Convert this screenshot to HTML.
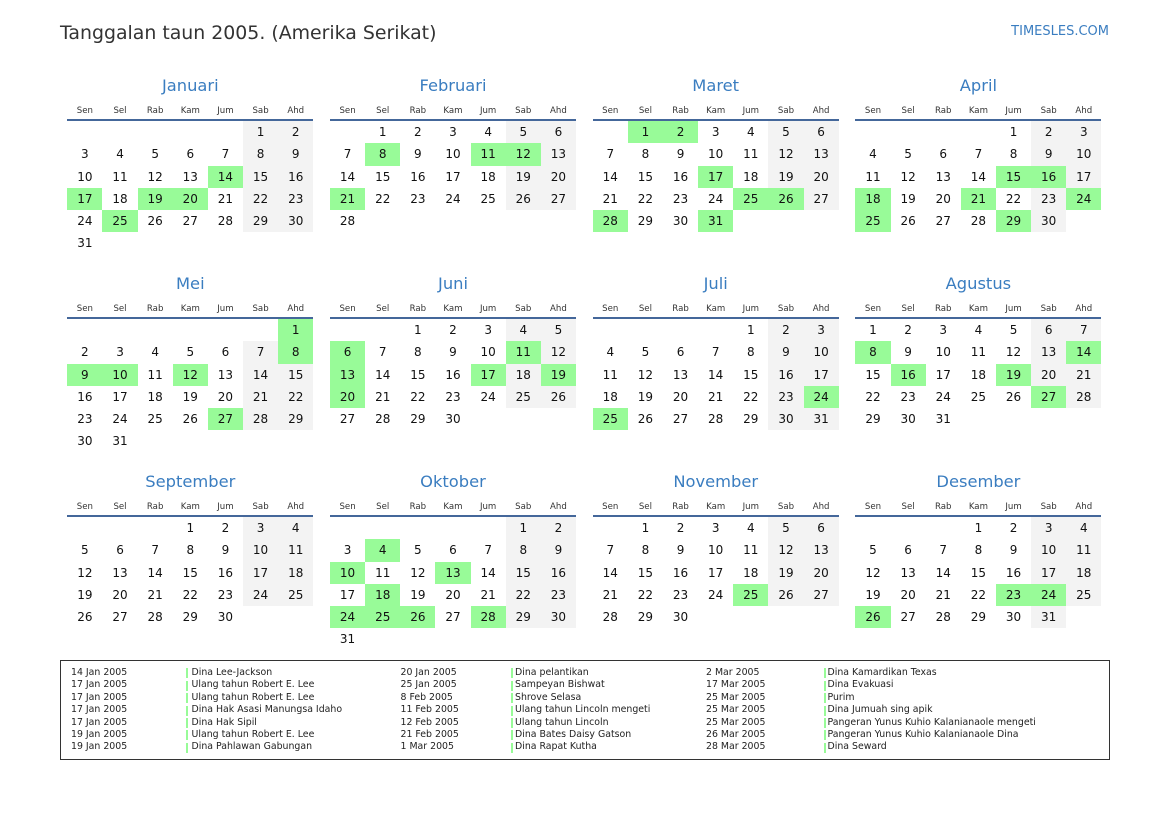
<!DOCTYPE html>
<html><head><meta charset="utf-8">
<style>
*{margin:0;padding:0;box-sizing:border-box}
html,body{width:1169px;height:827px;overflow:hidden;background:#fff;font-family:"DejaVu Sans","Liberation Sans",sans-serif;color:#111}
.hd{position:absolute;left:60px;top:21px;font-size:18.9px;line-height:24px;color:#333;white-space:nowrap}
.brand{position:absolute;right:60px;top:24px;font-size:13px;line-height:16px;color:#3a7dc0}
.m{position:absolute;width:246px;height:200px}
.t{position:absolute;left:0;top:75.5px;width:246px;text-align:center;font-size:16.3px;line-height:20px;color:#3a7dc0}
.d{position:absolute;left:0;top:104.5px;width:246px;display:grid;grid-template-columns:repeat(7,1fr);font-size:8.6px;line-height:12px;text-align:center;color:#333}
.l{position:absolute;left:0;top:119px;width:246px;height:2px;background:#44679a}
.g{position:absolute;left:0;top:121px;width:246px;display:grid;grid-template-columns:repeat(7,1fr);grid-auto-rows:22.3px;font-size:12px;line-height:22.3px;text-align:center}
.g span.w{background:#f3f3f3}
.g span.h{background:#98fb98}
.box{position:absolute;left:60px;top:660px;width:1050px;height:99.5px;border:1.8px solid #333}
.c{position:absolute;top:667px;font-size:9.4px;line-height:12.4px;color:#222;white-space:nowrap}
.n div{position:relative;padding-left:4px}
.n div::before{content:"";position:absolute;left:0;top:1.4px;width:2px;height:10px;background:#98fb98}
.n1 div{padding-left:6px}
</style></head><body>
<div class="hd">Tanggalan taun 2005. (Amerika Serikat)</div>
<div class="brand">TIMESLES.COM</div>

<!-- Row 1 -->
<div class="m" style="left:67.3px;top:0px">
<div class="t">Januari</div>
<div class="d"><span>Sen</span><span>Sel</span><span>Rab</span><span>Kam</span><span>Jum</span><span>Sab</span><span>Ahd</span></div>
<div class="l"></div>
<div class="g"><span></span><span></span><span></span><span></span><span></span><span class="w">1</span><span class="w">2</span><span>3</span><span>4</span><span>5</span><span>6</span><span>7</span><span class="w">8</span><span class="w">9</span><span>10</span><span>11</span><span>12</span><span>13</span><span class="h">14</span><span class="w">15</span><span class="w">16</span><span class="h">17</span><span>18</span><span class="h">19</span><span class="h">20</span><span>21</span><span class="w">22</span><span class="w">23</span><span>24</span><span class="h">25</span><span>26</span><span>27</span><span>28</span><span class="w">29</span><span class="w">30</span><span>31</span></div>
</div>

<div class="m" style="left:330px;top:0px">
<div class="t">Februari</div>
<div class="d"><span>Sen</span><span>Sel</span><span>Rab</span><span>Kam</span><span>Jum</span><span>Sab</span><span>Ahd</span></div>
<div class="l"></div>
<div class="g"><span></span><span>1</span><span>2</span><span>3</span><span>4</span><span class="w">5</span><span class="w">6</span><span>7</span><span class="h">8</span><span>9</span><span>10</span><span class="h">11</span><span class="h">12</span><span class="w">13</span><span>14</span><span>15</span><span>16</span><span>17</span><span>18</span><span class="w">19</span><span class="w">20</span><span class="h">21</span><span>22</span><span>23</span><span>24</span><span>25</span><span class="w">26</span><span class="w">27</span><span>28</span></div>
</div>

<div class="m" style="left:592.7px;top:0px">
<div class="t">Maret</div>
<div class="d"><span>Sen</span><span>Sel</span><span>Rab</span><span>Kam</span><span>Jum</span><span>Sab</span><span>Ahd</span></div>
<div class="l"></div>
<div class="g"><span></span><span class="h">1</span><span class="h">2</span><span>3</span><span>4</span><span class="w">5</span><span class="w">6</span><span>7</span><span>8</span><span>9</span><span>10</span><span>11</span><span class="w">12</span><span class="w">13</span><span>14</span><span>15</span><span>16</span><span class="h">17</span><span>18</span><span class="w">19</span><span class="w">20</span><span>21</span><span>22</span><span>23</span><span>24</span><span class="h">25</span><span class="h">26</span><span class="w">27</span><span class="h">28</span><span>29</span><span>30</span><span class="h">31</span></div>
</div>

<div class="m" style="left:855.4px;top:0px">
<div class="t">April</div>
<div class="d"><span>Sen</span><span>Sel</span><span>Rab</span><span>Kam</span><span>Jum</span><span>Sab</span><span>Ahd</span></div>
<div class="l"></div>
<div class="g"><span></span><span></span><span></span><span></span><span>1</span><span class="w">2</span><span class="w">3</span><span>4</span><span>5</span><span>6</span><span>7</span><span>8</span><span class="w">9</span><span class="w">10</span><span>11</span><span>12</span><span>13</span><span>14</span><span class="h">15</span><span class="h">16</span><span class="w">17</span><span class="h">18</span><span>19</span><span>20</span><span class="h">21</span><span>22</span><span class="w">23</span><span class="h">24</span><span class="h">25</span><span>26</span><span>27</span><span>28</span><span class="h">29</span><span class="w">30</span></div>
</div>

<!-- Row 2 -->
<div class="m" style="left:67.3px;top:198px">
<div class="t">Mei</div>
<div class="d"><span>Sen</span><span>Sel</span><span>Rab</span><span>Kam</span><span>Jum</span><span>Sab</span><span>Ahd</span></div>
<div class="l"></div>
<div class="g"><span></span><span></span><span></span><span></span><span></span><span></span><span class="h">1</span><span>2</span><span>3</span><span>4</span><span>5</span><span>6</span><span class="w">7</span><span class="h">8</span><span class="h">9</span><span class="h">10</span><span>11</span><span class="h">12</span><span>13</span><span class="w">14</span><span class="w">15</span><span>16</span><span>17</span><span>18</span><span>19</span><span>20</span><span class="w">21</span><span class="w">22</span><span>23</span><span>24</span><span>25</span><span>26</span><span class="h">27</span><span class="w">28</span><span class="w">29</span><span>30</span><span>31</span></div>
</div>

<div class="m" style="left:330px;top:198px">
<div class="t">Juni</div>
<div class="d"><span>Sen</span><span>Sel</span><span>Rab</span><span>Kam</span><span>Jum</span><span>Sab</span><span>Ahd</span></div>
<div class="l"></div>
<div class="g"><span></span><span></span><span>1</span><span>2</span><span>3</span><span class="w">4</span><span class="w">5</span><span class="h">6</span><span>7</span><span>8</span><span>9</span><span>10</span><span class="h">11</span><span class="w">12</span><span class="h">13</span><span>14</span><span>15</span><span>16</span><span class="h">17</span><span class="w">18</span><span class="h">19</span><span class="h">20</span><span>21</span><span>22</span><span>23</span><span>24</span><span class="w">25</span><span class="w">26</span><span>27</span><span>28</span><span>29</span><span>30</span></div>
</div>

<div class="m" style="left:592.7px;top:198px">
<div class="t">Juli</div>
<div class="d"><span>Sen</span><span>Sel</span><span>Rab</span><span>Kam</span><span>Jum</span><span>Sab</span><span>Ahd</span></div>
<div class="l"></div>
<div class="g"><span></span><span></span><span></span><span></span><span>1</span><span class="w">2</span><span class="w">3</span><span>4</span><span>5</span><span>6</span><span>7</span><span>8</span><span class="w">9</span><span class="w">10</span><span>11</span><span>12</span><span>13</span><span>14</span><span>15</span><span class="w">16</span><span class="w">17</span><span>18</span><span>19</span><span>20</span><span>21</span><span>22</span><span class="w">23</span><span class="h">24</span><span class="h">25</span><span>26</span><span>27</span><span>28</span><span>29</span><span class="w">30</span><span class="w">31</span></div>
</div>

<div class="m" style="left:855.4px;top:198px">
<div class="t">Agustus</div>
<div class="d"><span>Sen</span><span>Sel</span><span>Rab</span><span>Kam</span><span>Jum</span><span>Sab</span><span>Ahd</span></div>
<div class="l"></div>
<div class="g"><span>1</span><span>2</span><span>3</span><span>4</span><span>5</span><span class="w">6</span><span class="w">7</span><span class="h">8</span><span>9</span><span>10</span><span>11</span><span>12</span><span class="w">13</span><span class="h">14</span><span>15</span><span class="h">16</span><span>17</span><span>18</span><span class="h">19</span><span class="w">20</span><span class="w">21</span><span>22</span><span>23</span><span>24</span><span>25</span><span>26</span><span class="h">27</span><span class="w">28</span><span>29</span><span>30</span><span>31</span></div>
</div>

<!-- Row 3 -->
<div class="m" style="left:67.3px;top:396px">
<div class="t">September</div>
<div class="d"><span>Sen</span><span>Sel</span><span>Rab</span><span>Kam</span><span>Jum</span><span>Sab</span><span>Ahd</span></div>
<div class="l"></div>
<div class="g"><span></span><span></span><span></span><span>1</span><span>2</span><span class="w">3</span><span class="w">4</span><span>5</span><span>6</span><span>7</span><span>8</span><span>9</span><span class="w">10</span><span class="w">11</span><span>12</span><span>13</span><span>14</span><span>15</span><span>16</span><span class="w">17</span><span class="w">18</span><span>19</span><span>20</span><span>21</span><span>22</span><span>23</span><span class="w">24</span><span class="w">25</span><span>26</span><span>27</span><span>28</span><span>29</span><span>30</span></div>
</div>

<div class="m" style="left:330px;top:396px">
<div class="t">Oktober</div>
<div class="d"><span>Sen</span><span>Sel</span><span>Rab</span><span>Kam</span><span>Jum</span><span>Sab</span><span>Ahd</span></div>
<div class="l"></div>
<div class="g"><span></span><span></span><span></span><span></span><span></span><span class="w">1</span><span class="w">2</span><span>3</span><span class="h">4</span><span>5</span><span>6</span><span>7</span><span class="w">8</span><span class="w">9</span><span class="h">10</span><span>11</span><span>12</span><span class="h">13</span><span>14</span><span class="w">15</span><span class="w">16</span><span>17</span><span class="h">18</span><span>19</span><span>20</span><span>21</span><span class="w">22</span><span class="w">23</span><span class="h">24</span><span class="h">25</span><span class="h">26</span><span>27</span><span class="h">28</span><span class="w">29</span><span class="w">30</span><span>31</span></div>
</div>

<div class="m" style="left:592.7px;top:396px">
<div class="t">November</div>
<div class="d"><span>Sen</span><span>Sel</span><span>Rab</span><span>Kam</span><span>Jum</span><span>Sab</span><span>Ahd</span></div>
<div class="l"></div>
<div class="g"><span></span><span>1</span><span>2</span><span>3</span><span>4</span><span class="w">5</span><span class="w">6</span><span>7</span><span>8</span><span>9</span><span>10</span><span>11</span><span class="w">12</span><span class="w">13</span><span>14</span><span>15</span><span>16</span><span>17</span><span>18</span><span class="w">19</span><span class="w">20</span><span>21</span><span>22</span><span>23</span><span>24</span><span class="h">25</span><span class="w">26</span><span class="w">27</span><span>28</span><span>29</span><span>30</span></div>
</div>

<div class="m" style="left:855.4px;top:396px">
<div class="t">Desember</div>
<div class="d"><span>Sen</span><span>Sel</span><span>Rab</span><span>Kam</span><span>Jum</span><span>Sab</span><span>Ahd</span></div>
<div class="l"></div>
<div class="g"><span></span><span></span><span></span><span>1</span><span>2</span><span class="w">3</span><span class="w">4</span><span>5</span><span>6</span><span>7</span><span>8</span><span>9</span><span class="w">10</span><span class="w">11</span><span>12</span><span>13</span><span>14</span><span>15</span><span>16</span><span class="w">17</span><span class="w">18</span><span>19</span><span>20</span><span>21</span><span>22</span><span class="h">23</span><span class="h">24</span><span class="w">25</span><span class="h">26</span><span>27</span><span>28</span><span>29</span><span>30</span><span class="w">31</span></div>
</div>

<!-- Legend -->
<div class="box"></div>
<div class="c" style="left:71px"><div>14 Jan 2005</div><div>17 Jan 2005</div><div>17 Jan 2005</div><div>17 Jan 2005</div><div>17 Jan 2005</div><div>19 Jan 2005</div><div>19 Jan 2005</div></div>
<div class="c n n1" style="left:185.5px"><div>Dina Lee-Jackson</div><div>Ulang tahun Robert E. Lee</div><div>Ulang tahun Robert E. Lee</div><div>Dina Hak Asasi Manungsa Idaho</div><div>Dina Hak Sipil</div><div>Ulang tahun Robert E. Lee</div><div>Dina Pahlawan Gabungan</div></div>
<div class="c" style="left:400.5px"><div>20 Jan 2005</div><div>25 Jan 2005</div><div>8 Feb 2005</div><div>11 Feb 2005</div><div>12 Feb 2005</div><div>21 Feb 2005</div><div>1 Mar 2005</div></div>
<div class="c n" style="left:511px"><div>Dina pelantikan</div><div>Sampeyan Bishwat</div><div>Shrove Selasa</div><div>Ulang tahun Lincoln mengeti</div><div>Ulang tahun Lincoln</div><div>Dina Bates Daisy Gatson</div><div>Dina Rapat Kutha</div></div>
<div class="c" style="left:706px"><div>2 Mar 2005</div><div>17 Mar 2005</div><div>25 Mar 2005</div><div>25 Mar 2005</div><div>25 Mar 2005</div><div>26 Mar 2005</div><div>28 Mar 2005</div></div>
<div class="c n" style="left:823.5px"><div>Dina Kamardikan Texas</div><div>Dina Evakuasi</div><div>Purim</div><div>Dina Jumuah sing apik</div><div>Pangeran Yunus Kuhio Kalanianaole mengeti</div><div>Pangeran Yunus Kuhio Kalanianaole Dina</div><div>Dina Seward</div></div>
</body></html>
